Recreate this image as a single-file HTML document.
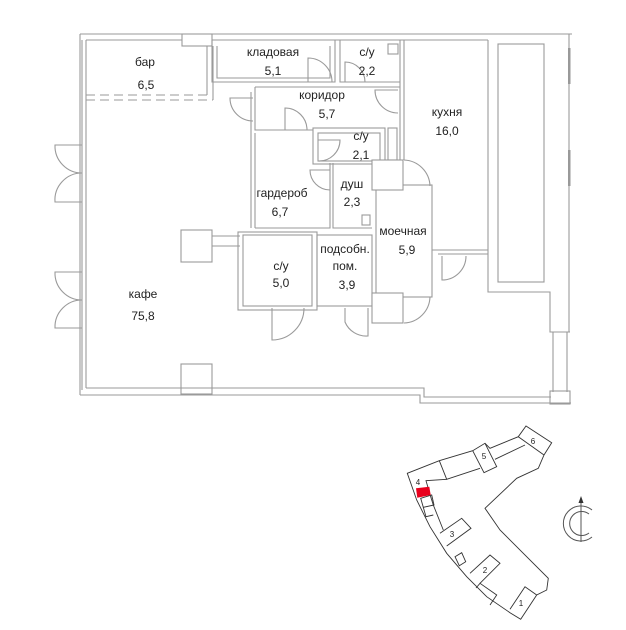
<!DOCTYPE html>
<html><head><meta charset="utf-8"><style>
html,body{margin:0;padding:0;background:#fff;width:626px;height:630px;overflow:hidden}
svg{display:block}
text{font-family:"Liberation Sans","DejaVu Sans",sans-serif;font-size:12px;fill:#222;text-anchor:middle}
</style></head><body>
<svg width="626" height="630" viewBox="0 0 626 630" xmlns="http://www.w3.org/2000/svg">
<g fill="none" stroke="#9a9a9a" stroke-width="1.1">
<polyline points="80,34 572,34"/>
<polyline points="86,40 182,40"/>
<polyline points="212,40 488,40"/>
<line x1="80" y1="34" x2="80" y2="395"/>
<line x1="82" y1="40" x2="82" y2="390"/>
<line x1="86" y1="40" x2="86" y2="388"/>
<polyline points="80,395 420,395 420,403 571,403"/>
<polyline points="86,388 424,388 424,397 551,397"/>
<line x1="569" y1="34" x2="569" y2="332"/>
<rect x="568" y="48" width="2.5" height="36" fill="#999" stroke="none"/>
<rect x="568" y="150" width="2.5" height="36" fill="#999" stroke="none"/>
<polyline points="488,40 488,292 550,292 550,332 570,332"/>
<line x1="553" y1="332" x2="553" y2="392"/>
<line x1="567" y1="332" x2="567" y2="392"/>
<rect x="550" y="391" width="20" height="13"/>
<rect x="498" y="44" width="46" height="238"/>
<rect x="182" y="34" width="30" height="12"/>
<polyline points="207,46 207,95"/>
<polyline points="213,46 213,100"/>
<line x1="86" y1="95" x2="207" y2="95" stroke-dasharray="9,5"/>
<line x1="86" y1="100" x2="213" y2="100" stroke-dasharray="9,5"/>
<polyline points="212,40 212,82 335,82 335,40"/>
<polyline points="217,46 217,78 330,78 330,46"/>
<polyline points="340,40 340,82 400,82"/>
<rect x="388" y="44" width="10" height="10"/>
<line x1="400" y1="40" x2="400" y2="160"/>
<line x1="404" y1="40" x2="404" y2="160"/>
<polyline points="255,87 400,87"/>
<polyline points="255,87 255,130 313,130"/>
<polyline points="251,92 251,228"/>
<polyline points="255,133 255,228"/>
<rect x="313" y="128" width="72" height="36"/>
<rect x="318" y="133" width="62" height="28"/>
<rect x="388" y="128" width="9" height="32"/>
<polyline points="255,228 330,228 330,163"/>
<polyline points="333,163 333,228 372,228"/>
<rect x="362" y="215" width="8" height="10"/>
<polyline points="212,236 240,236"/>
<polyline points="212,246 240,246"/>
<rect x="181" y="230" width="31" height="32"/>
<rect x="181" y="364" width="31" height="30"/>
<rect x="243" y="235" width="69" height="71"/>
<rect x="238" y="232" width="79" height="78"/>
<rect x="317" y="235" width="55" height="71"/>
<rect x="376" y="185" width="56" height="112"/>
<rect x="372" y="160" width="31" height="30" fill="#fff"/>
<rect x="372" y="293" width="31" height="30" fill="#fff"/>
<polyline points="432,250 488,250"/>
<polyline points="438,254 488,254"/>
<path d="M308,82 L308,58 A24,24 0 0 1 332,82"/>
<path d="M345,82 L345,62 A20,20 0 0 1 365,82"/>
<path d="M398,90 L375,90 A23,23 0 0 0 398,113"/>
<path d="M253,98 L230,98 A23,23 0 0 0 253,121"/>
<path d="M285,130 L285,108 A22,22 0 0 1 307,130"/>
<path d="M318,140 L340,140 A21,21 0 0 1 318,161"/>
<path d="M330,170 L310,170 A20,20 0 0 0 330,190"/>
<path d="M404,160 A27,27 0 0 1 430,186"/>
<path d="M404,323 A27,27 0 0 0 430,297"/>
<path d="M442,256 L442,280 A24,24 0 0 0 466,256"/>
<path d="M272,308 L272,340 A32,32 0 0 0 304,308"/>
<path d="M345,308 L345,322 A23,23 0 0 0 368,336 L368,308"/>
<path d="M82,145 L55,145 A27,27 0 0 0 82,173 A27,27 0 0 0 55,202 L82,202"/>
<path d="M82,272 L55,272 A27,27 0 0 0 82,300 A27,27 0 0 0 55,328 L82,328"/>
</g>
<text x="145" y="66">бар</text><text x="146" y="89">6,5</text>
<text x="273" y="56">кладовая</text><text x="273" y="75">5,1</text>
<text x="367" y="56">с/у</text><text x="367" y="75">2,2</text>
<text x="322" y="99">коридор</text><text x="327" y="118">5,7</text>
<text x="361" y="140">с/у</text><text x="361" y="159">2,1</text>
<text x="447" y="116">кухня</text><text x="447" y="135">16,0</text>
<text x="282" y="197">гардероб</text><text x="280" y="216">6,7</text>
<text x="352" y="188">душ</text><text x="352" y="206">2,3</text>
<text x="403" y="235">моечная</text><text x="407" y="254">5,9</text>
<text x="281" y="270">с/у</text><text x="281" y="287">5,0</text>
<text x="345" y="253">подсобн.</text><text x="345" y="270">пом.</text><text x="347" y="289">3,9</text>
<text x="143" y="298">кафе</text><text x="143" y="320">75,8</text>
<!-- minimap -->
<g fill="none" stroke="#333" stroke-width="0.9">
<polygon points="407.3,473.3 416.7,500 430,526.7 446.7,553.3 466.7,576.7 486.7,596.7 510,612.7 520.7,619.3 536.7,595 546.7,590 548.3,578.3 523.3,553.3 500,530 485,508.3 516.7,478.3 538.3,468.3 544,455 551.7,442.7 526,426 518.3,436.7 490,448.3 485,443.3 472.7,450.7 439.3,460.7"/>
<line x1="518.3" y1="436.7" x2="544" y2="455"/>
<polyline points="495,459.3 525,445"/>
<polyline points="485,443.3 496.7,466.7 484,472.7 472.7,450.7"/>
<polyline points="480,468.3 446.7,479.3 439.3,460.7"/>
<polyline points="446.7,479.3 426,480.7 430.7,496.7 433.3,505 443.3,530"/>
<polygon points="420.7,498.3 431.7,495 434,505 423.3,507.3"/>
<polyline points="423.3,507.3 426,516.7 433.3,515"/>
<polyline points="440,533.3 461.7,518.3 471,528.3 446.7,546"/>
<polygon points="455,556.7 461.7,552.7 465.7,561.7 459.3,565.7"/>
<polyline points="470,573.3 490,555 500,563.3 480,583.3"/>
<polyline points="476,588 480,583.3 496.7,595 490,605"/>
<polyline points="510,609.3 525,586.7 536.7,595"/>
</g>
<polygon points="416,488.3 429.3,486.7 430.7,495 417.3,497.7" fill="#e8001c"/>
<g><text x="418" y="485" style="font-size:8px">4</text><text x="484" y="459" style="font-size:8px">5</text><text x="533" y="444" style="font-size:8px">6</text><text x="452" y="537" style="font-size:8px">3</text><text x="485" y="573" style="font-size:8px">2</text><text x="521" y="606" style="font-size:8px">1</text></g>
<g fill="none" stroke="#555" stroke-width="1">
<path d="M592,510 A17.5,17.5 0 1 0 592,537"/>
<path d="M589,514 A12,12 0 1 0 589,533"/>
<line x1="581" y1="500" x2="581" y2="542"/>
</g>
<polygon points="581,496 578.5,503 583.5,503" fill="#333"/>
</svg>
</body></html>
